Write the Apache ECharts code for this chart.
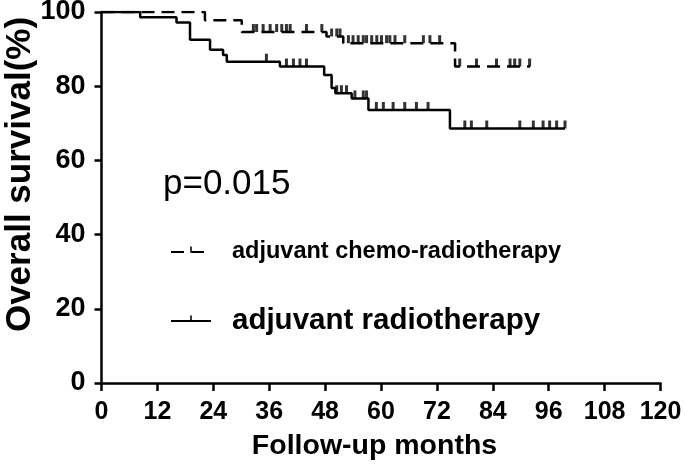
<!DOCTYPE html>
<html><head><meta charset="utf-8">
<script src="https://cdn.jsdelivr.net/npm/echarts@6/dist/echarts.min.js"></script>
<style>html,body{margin:0;padding:0;background:#fff}#c{width:685px;height:471px}</style>
</head><body><div id="c"></div>
<script>
// Kaplan-Meier step data (months, % survival)
const chemoTimes = [0, 22.2, 30.1, 48.3, 51.9, 75.9, 92];
const chemoSurv  = [100, 97.8, 94.6, 93.4, 91.6, 85.3, 85.3];
const chemoCensor = [32.6,33.3,34.7,36.2,37.6,38.7,39.7,40.5,44,47.3,49.4,50.5,51.2,53,54,55.1,56.2,56.9,58,59.1,60.1,61.2,61.9,63,65.1,69.1,70.5,72.6,76.9,80.5,84.8,87.7,88.7,89.8,91.9];
const radioTimes = [0, 8.3, 16.1, 19, 23.3, 26.1, 26.9, 38.3, 47.8, 49.4, 50.2, 53.7, 57.3, 74.8, 99.5];
const radioSurv  = [100, 98.6, 97.2, 92.5, 89.8, 88.4, 86.6, 85.3, 83.0, 79.5, 78.1, 76.7, 73.6, 68.6, 68.6];
const radioCensor = [35.4,39.7,41.2,42.6,44,50.5,51.5,52.6,54.4,56.2,56.9,59,60.5,62.6,65.1,67.6,70.1,78,79.4,82.7,89.8,92.7,94.8,96.2,97.7,99.5];
const xTicks = [0,12,24,36,48,60,72,84,96,108,120];
const yTicks = [0,20,40,60,80,100];
const seriesNames = ['adjuvant chemo-radiotherapy', 'adjuvant radiotherapy'];
const pText = 'p=0.015';

function survAt(times, surv, t) {
  let v = surv[0];
  for (let i = 0; i < times.length; i++) { if (times[i] <= t) v = surv[i]; }
  return v;
}
const pair = (ts, ss) => ts.map((t, i) => [t, ss[i]]);
const censorPts = (cs, ts, ss) => cs.map(t => [t, survAt(ts, ss, t)]);

const REG = 'Liberation Sans, Arial, sans-serif';
const chart = echarts.init(document.getElementById('c'), null, {renderer: 'canvas'});
const tickStyle = {type: 'scatter', symbol: 'rect', symbolSize: [3, 8], symbolOffset: [0, -4],
  itemStyle: {color: '#000'}, z: 5, silent: true};
// legend symbol: small upward tick centred on the legend line
const tickIcon = 'path://M4.3,0H5.7V5.5H4.3Z M0,9.99H0.01V10H0Z M9.99,0H10V0.01H9.99Z';
chart.setOption({
  animation: false,
  backgroundColor: '#fff',
  grid: {left: 101.5, right: 24.5, top: 12, bottom: 88, containLabel: false, outerBoundsMode: 'none'},
  title: {text: pText, left: 158, top: 162,
    textStyle: {fontFamily: REG, fontSize: 35, fontWeight: 'normal', color: '#000'}},
  legend: {
    orient: 'vertical', left: 165, top: 230,
    itemWidth: 40, itemHeight: 14, itemGap: 35,
    data: [
      {name: seriesNames[0], textStyle: {fontFamily: REG, fontSize: 23.5, fontWeight: 'bold', color: '#000', lineHeight: 34, padding: [0,0,0,16]}},
      {name: seriesNames[1], textStyle: {fontFamily: REG, fontSize: 29.5, fontWeight: 'bold', color: '#000', lineHeight: 34, padding: [0,0,0,16]}}
    ],
    textStyle: {color: '#000'}
  },
  xAxis: {
    type: 'value', min: 0, max: 120, interval: 12,
    name: 'Follow-up months', nameLocation: 'middle', nameGap: 49, nameMoveOverlap: false,
    nameTextStyle: {fontFamily: REG, fontSize: 28.5, fontWeight: 'bold', color: '#000', padding: [0, 13, 0, 0]},
    axisLine: {lineStyle: {color: '#000', width: 2.5}},
    axisTick: {length: 8, lineStyle: {color: '#000', width: 2.5}},
    axisLabel: {margin: 17, fontFamily: REG, fontSize: 25, fontWeight: 'bold', color: '#000',
      formatter: v => xTicks.includes(v) ? String(v) : ''},
    splitLine: {show: false}
  },
  yAxis: {
    type: 'value', min: 0, max: 100, interval: 20,
    name: 'Overall survival(%)', nameLocation: 'middle', nameGap: 64, nameRotate: 90, nameMoveOverlap: false,
    nameTextStyle: {fontFamily: REG, fontSize: 35, fontWeight: 'bold', color: '#000', padding: [0, 0, 0, 46]},
    axisLine: {show: true, lineStyle: {color: '#000', width: 2.5}},
    axisTick: {show: true, length: 7, lineStyle: {color: '#000', width: 2.5}},
    axisLabel: {margin: 16, fontFamily: REG, fontSize: 27, fontWeight: 'bold', color: '#000',
      formatter: v => yTicks.includes(v) ? String(v) : ''},
    splitLine: {show: false}
  },
  series: [
    {name: seriesNames[0], type: 'line', step: 'end', symbol: tickIcon, showSymbol: false, data: pair(chemoTimes, chemoSurv),
      lineStyle: {color: '#000', width: 2.5, type: [13, 7]}, itemStyle: {color: '#000'}, z: 3},
    {name: seriesNames[1], type: 'line', step: 'end', symbol: tickIcon, showSymbol: false, data: pair(radioTimes, radioSurv),
      lineStyle: {color: '#000', width: 2.5, type: 'solid'}, itemStyle: {color: '#000'}, z: 3},
    Object.assign({name: 'c1', data: censorPts(chemoCensor, chemoTimes, chemoSurv)}, tickStyle),
    Object.assign({name: 'c2', data: censorPts(radioCensor, radioTimes, radioSurv)}, tickStyle)
  ]
});
</script></body></html>
